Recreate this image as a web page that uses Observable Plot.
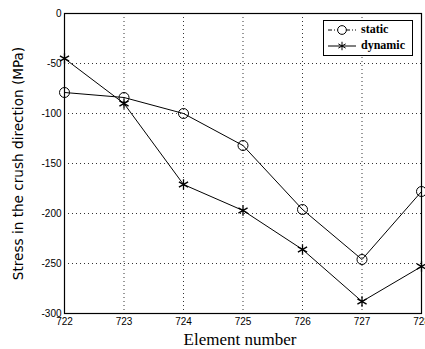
<!DOCTYPE html>
<html><head><meta charset="utf-8">
<script src="https://cdn.jsdelivr.net/npm/d3@7"></script>
<script src="https://cdn.jsdelivr.net/npm/@observablehq/plot@0.6"></script>
<style>
body{margin:0;background:#fff;}
#wrap{position:relative;width:425px;height:349px;}
#legend{position:absolute;left:323px;top:20px;width:90px;height:36px;border:1px solid #000;background:#fff;box-sizing:border-box;font:bold 12px "Liberation Serif",serif;}
#legend div{display:flex;align-items:center;height:15px;margin-top:1px;}
#legend svg{margin-left:3px;margin-right:4px;}
</style>
</head><body><div id="wrap"></div>
<script>
const elements = [722, 723, 724, 725, 726, 727, 728];
const staticStress = [-79, -84, -100, -132, -196, -246, -178];
const dynamicStress = [-45, -90, -171, -197, -236, -288, -253];
const yTicks = [0, -50, -100, -150, -200, -250, -300];
const seriesNames = ["static", "dynamic"];

const data = [];
elements.forEach((e, i) => {
  data.push({element: e, stress: staticStress[i], series: seriesNames[0]});
  data.push({element: e, stress: dynamicStress[i], series: seriesNames[1]});
});
const staticData = data.filter(d => d.series === "static");
const dynamicData = data.filter(d => d.series === "dynamic");

const chart = Plot.plot({
  width: 425, height: 349,
  marginLeft: 64, marginRight: 4, marginTop: 13, marginBottom: 36,
  style: {fontFamily: "Liberation Sans, sans-serif", fontSize: "10px", color: "#000", background: "#fff"},
  x: {domain: [722, 728], label: null},
  y: {domain: [-300, 0], label: null},
  marks: [
    Plot.gridX(elements, {stroke: "#000", strokeOpacity: 0.8, strokeDasharray: "1,3", strokeWidth: 1}),
    Plot.gridY(yTicks, {stroke: "#000", strokeOpacity: 0.8, strokeDasharray: "1,3", strokeWidth: 1}),
    Plot.frame({stroke: "#000", strokeWidth: 1.2}),
    Plot.line(staticData, {x: "element", y: "stress", stroke: "#000", strokeWidth: 1}),
    Plot.line(dynamicData, {x: "element", y: "stress", stroke: "#000", strokeWidth: 1}),
    Plot.dot(staticData, {x: "element", y: "stress", symbol: "circle", r: 5, stroke: "#000", fill: "none", strokeWidth: 1}),
    Plot.dot(dynamicData, {x: "element", y: "stress", symbol: "asterisk", r: 5, stroke: "#000", strokeWidth: 1.3}),
    Plot.axisX({ticks: elements, tickSize: 0, tickPadding: 4, label: null, tickFormat: d => String(d), fontSize: 10}),
    Plot.axisY({ticks: yTicks, tickSize: 0, tickPadding: 3, label: null, tickFormat: d => d === 0 ? "0" : "-" + Math.abs(d), fontSize: 10}),
    Plot.text(["Element number"], {frameAnchor: "bottom", dy: 31, dx: -3, fontFamily: "Liberation Serif, serif", fontSize: 17, fill: "#000"}),
    Plot.text(["Stress in the crush direction (MPa)"], {frameAnchor: "left", textAnchor: "middle", dx: -46, dy: 0, rotate: -90, fontFamily: "DejaVu Sans, sans-serif", fontSize: 13.6, fill: "#000"})
  ]
});
const wrap = document.getElementById("wrap");
wrap.appendChild(chart);

const legend = document.createElement("div");
legend.id = "legend";
const icon = (sym) => {
  const s = d3.create("svg").attr("width", 30).attr("height", 12);
  s.append("line").attr("x1", 1).attr("x2", 29).attr("y1", 6).attr("y2", 6).attr("stroke", "#000").attr("stroke-width", 1)
    .attr("stroke-dasharray", sym === "circle" ? "4,2,1,2" : null);
  s.append("path").attr("transform", "translate(15,6)")
    .attr("d", d3.symbol(sym === "circle" ? d3.symbolCircle : d3.symbolAsterisk, sym === "circle" ? 60 : 50)())
    .attr("fill", sym === "circle" ? "#fff" : "none").attr("stroke", "#000");
  return s.node();
};
seriesNames.forEach((name, i) => {
  const row = document.createElement("div");
  row.appendChild(icon(i === 0 ? "circle" : "asterisk"));
  const t = document.createElement("span");
  t.textContent = name;
  row.appendChild(t);
  legend.appendChild(row);
});
wrap.appendChild(legend);
</script>
</body></html>
